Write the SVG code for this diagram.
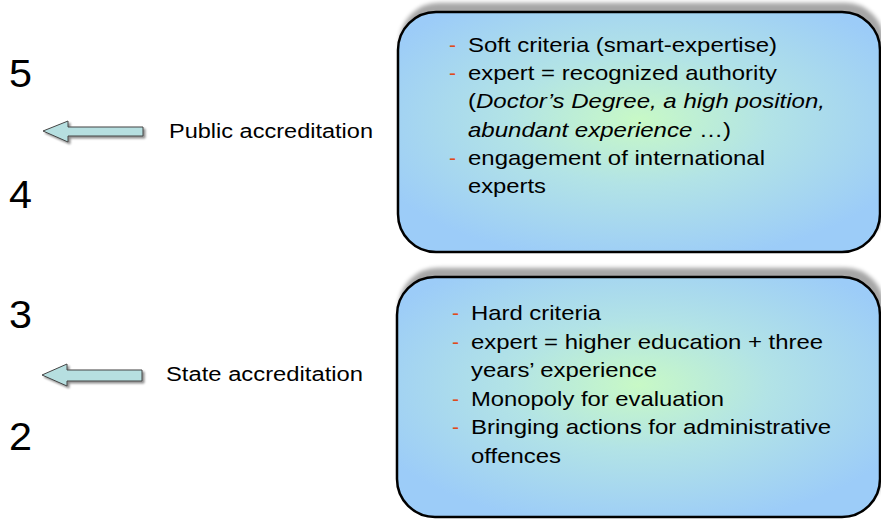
<svg xmlns="http://www.w3.org/2000/svg" width="881" height="519" viewBox="0 0 881 519">
<defs>
<radialGradient id="boxg" cx="0.5" cy="0.45" r="0.6">
<stop offset="0" stop-color="#c8f9c6"/>
<stop offset="0.45" stop-color="#b2e3e6"/>
<stop offset="1" stop-color="#9cccf8"/>
</radialGradient>
<filter id="bshadow" x="-5%" y="-10%" width="110%" height="120%">
<feGaussianBlur in="SourceAlpha" stdDeviation="2"/>
<feOffset dx="3" dy="-8" result="b"/>
<feComponentTransfer><feFuncA type="linear" slope="0.35"/></feComponentTransfer>
<feMerge><feMergeNode/><feMergeNode in="SourceGraphic"/></feMerge>
</filter>
<filter id="ashadow" x="-10%" y="-30%" width="130%" height="160%">
<feGaussianBlur in="SourceAlpha" stdDeviation="1"/>
<feOffset dx="2" dy="2"/>
<feComponentTransfer><feFuncA type="linear" slope="0.45"/></feComponentTransfer>
<feMerge><feMergeNode/><feMergeNode in="SourceGraphic"/></feMerge>
</filter>
</defs>
<style>
.box{fill:url(#boxg);stroke:#000;stroke-width:2.5;filter:url(#bshadow)}
.arr{fill:#b6dfe0;stroke:#444;stroke-width:1;filter:url(#ashadow)}
.t{font-family:"Liberation Sans",Arial,sans-serif;font-size:21px;fill:#000}
.lbl{font-family:"Liberation Sans",Arial,sans-serif;font-size:20px;fill:#000}
.num{font-family:"Liberation Sans",Arial,sans-serif;font-size:39px;fill:#000}
.d{font-family:"Liberation Sans",Arial,sans-serif;font-size:21px;fill:#e04a1c}
</style>
<rect width="881" height="519" fill="#fff"/>
<g id="scale">
<text class="num" x="9" y="87" textLength="23" lengthAdjust="spacingAndGlyphs">5</text>
<text class="num" x="9" y="208" textLength="23" lengthAdjust="spacingAndGlyphs">4</text>
<text class="num" x="9" y="328" textLength="23" lengthAdjust="spacingAndGlyphs">3</text>
<text class="num" x="9" y="450" textLength="23" lengthAdjust="spacingAndGlyphs">2</text>
</g>
<g id="public">
<path class="arr" d="M43,131 L68,121 L68,127 L143,127 L143,136 L68,136 L68,142 Z"/>
<text class="lbl" x="169" y="138" textLength="204" lengthAdjust="spacingAndGlyphs">Public accreditation</text>
</g>
<g id="state">
<path class="arr" d="M42,375 L67,364 L67,370 L142,370 L142,381 L67,381 L67,386 Z"/>
<text class="lbl" x="166" y="381" textLength="197" lengthAdjust="spacingAndGlyphs">State accreditation</text>
</g>
<g id="box-public">
<rect class="box" x="398" y="12" width="482" height="240" rx="38" ry="38"/>
<text class="d" x="449" y="52">-</text>
<text class="t" x="468" y="52" textLength="309" lengthAdjust="spacingAndGlyphs">Soft criteria (smart-expertise)</text>
<text class="d" x="449" y="80">-</text>
<text class="t" x="468" y="80" textLength="309" lengthAdjust="spacingAndGlyphs">expert = recognized authority</text>
<text class="t" x="468" y="108" textLength="357" lengthAdjust="spacingAndGlyphs">(<tspan font-style="italic">Doctor’s Degree, a high position,</tspan></text>
<text class="t" x="468" y="137" textLength="263" lengthAdjust="spacingAndGlyphs"><tspan font-style="italic">abundant experience </tspan>…)</text>
<text class="d" x="449" y="165">-</text>
<text class="t" x="468" y="165" textLength="297" lengthAdjust="spacingAndGlyphs">engagement of international</text>
<text class="t" x="468" y="193" textLength="78" lengthAdjust="spacingAndGlyphs">experts</text>
</g>
<g id="box-state">
<rect class="box" x="397" y="277" width="483" height="240" rx="38" ry="38"/>
<text class="d" x="452" y="320">-</text>
<text class="t" x="471" y="320" textLength="130" lengthAdjust="spacingAndGlyphs">Hard criteria</text>
<text class="d" x="452" y="349">-</text>
<text class="t" x="471" y="349" textLength="352" lengthAdjust="spacingAndGlyphs">expert = higher education + three</text>
<text class="t" x="471" y="377" textLength="186" lengthAdjust="spacingAndGlyphs">years’ experience</text>
<text class="d" x="452" y="406">-</text>
<text class="t" x="471" y="406" textLength="253" lengthAdjust="spacingAndGlyphs">Monopoly for evaluation</text>
<text class="d" x="452" y="434">-</text>
<text class="t" x="471" y="434" textLength="360" lengthAdjust="spacingAndGlyphs">Bringing actions for administrative</text>
<text class="t" x="471" y="463" textLength="90" lengthAdjust="spacingAndGlyphs">offences</text>
</g>
</svg>
